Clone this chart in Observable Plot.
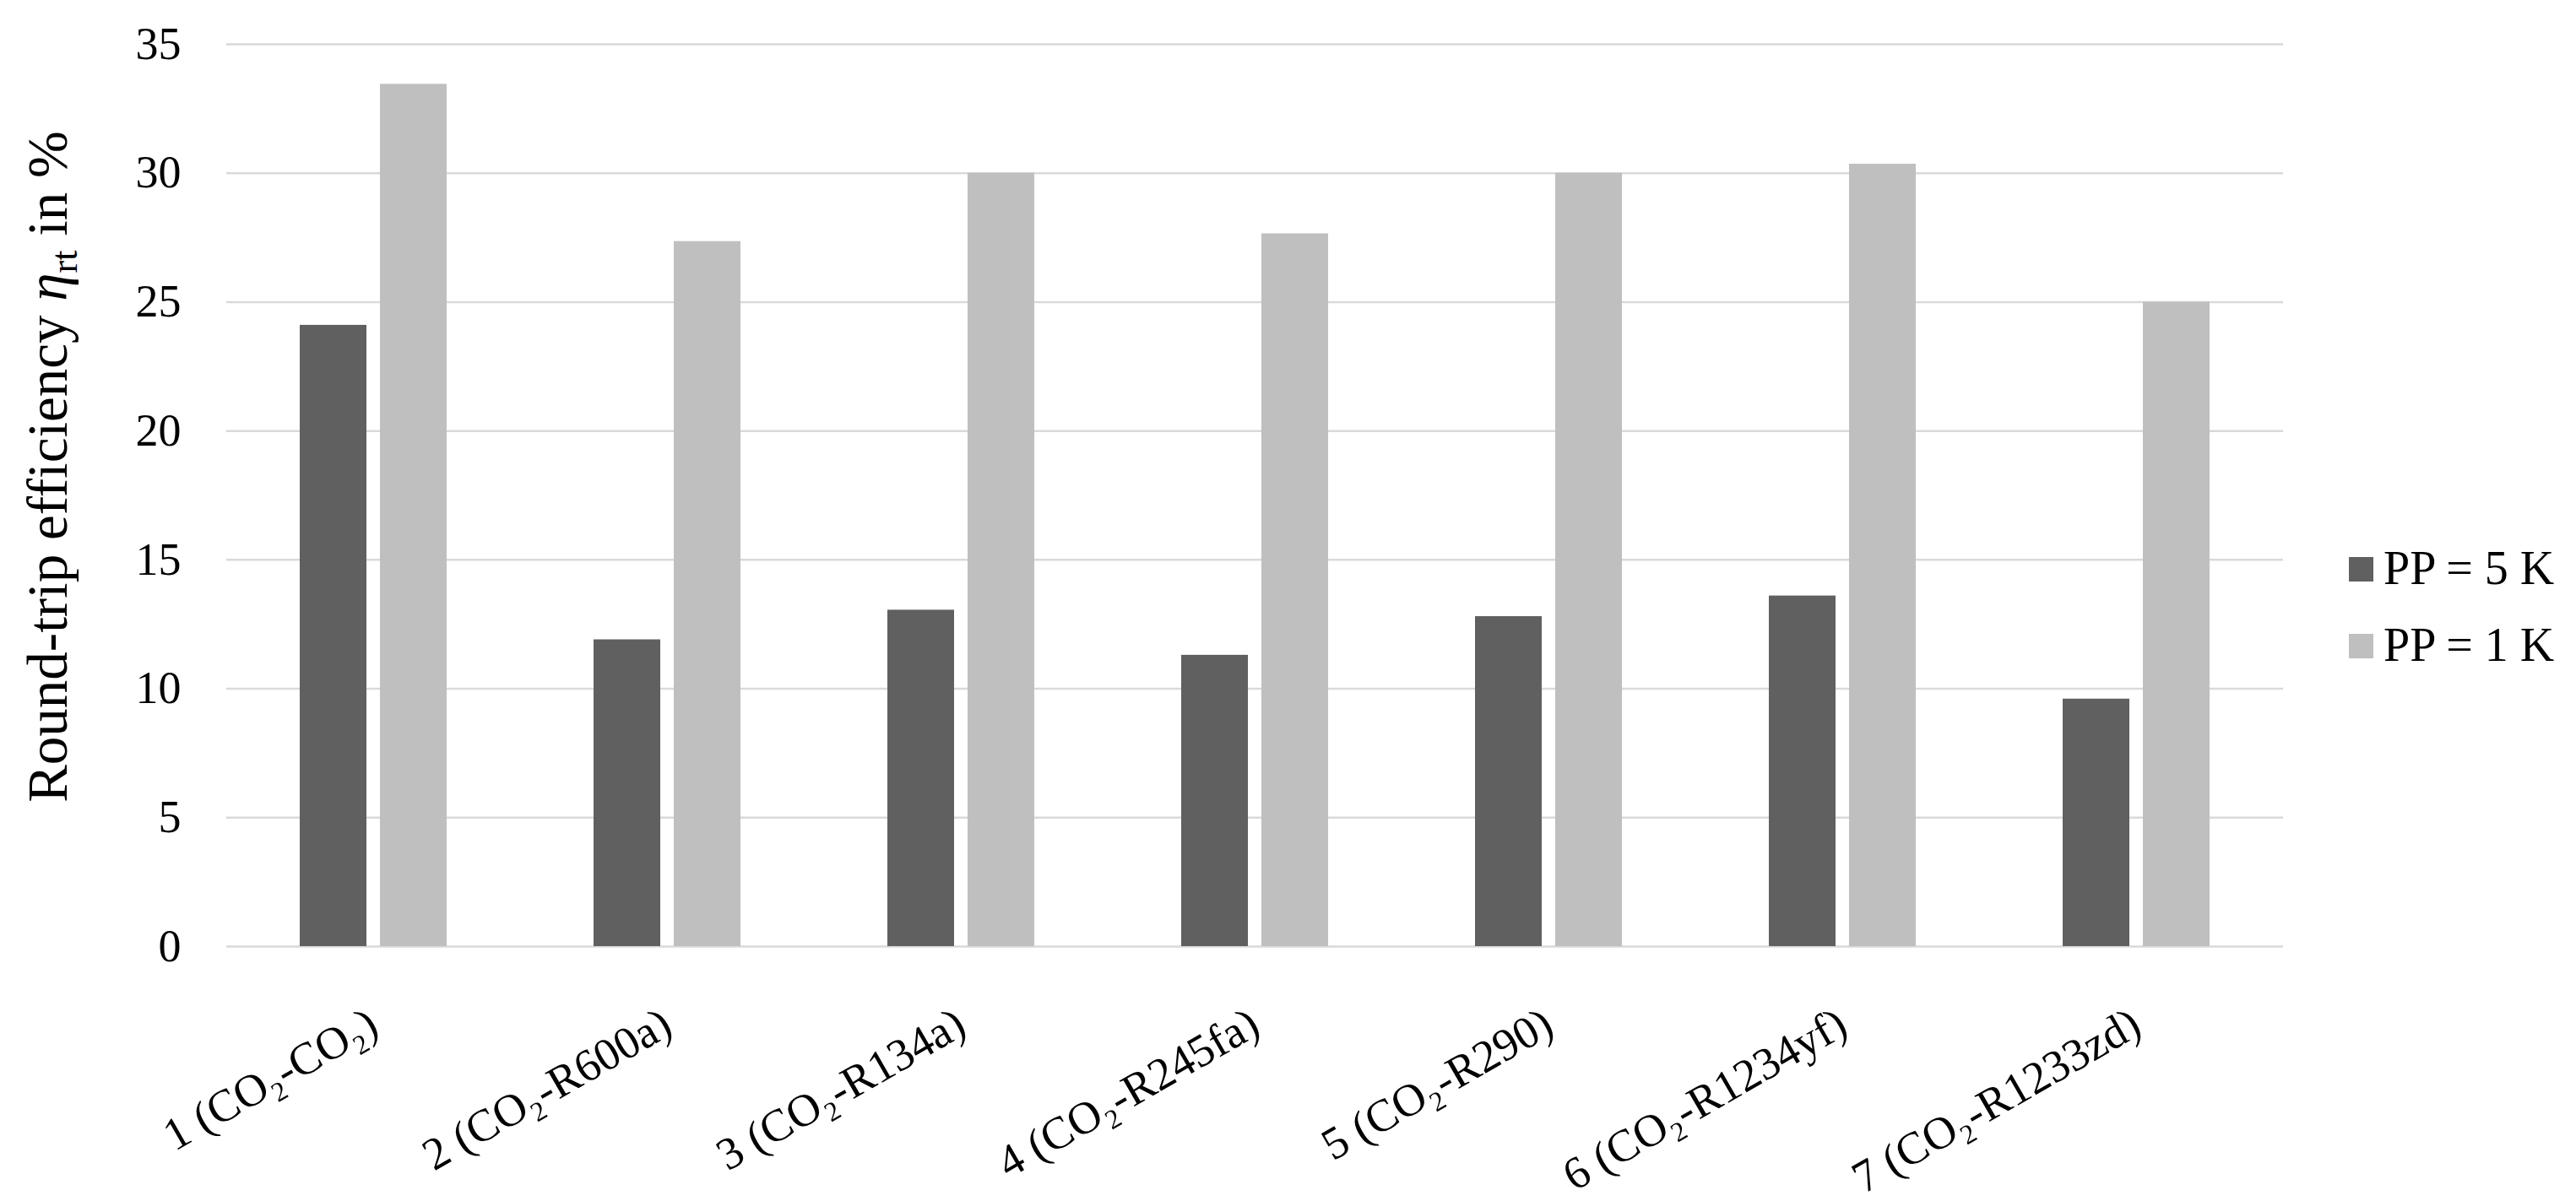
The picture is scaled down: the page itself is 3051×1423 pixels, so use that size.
<!DOCTYPE html>
<html>
<head>
<meta charset="utf-8">
<script src="https://cdn.jsdelivr.net/npm/d3@7"></script>
<script src="https://cdn.jsdelivr.net/npm/@observablehq/plot@0.6"></script>
<style>
  html, body { margin: 0; padding: 0; background: #fff; }
  #wrap { width: 3051px; height: 1423px; }
  svg { font-family: "Liberation Serif", "Times New Roman", serif; }
</style>
</head>
<body>
<div id="wrap"></div>
<script>
// ---- data ----
const categories = [
  "1 (CO₂-CO₂)",
  "2 (CO₂-R600a)",
  "3 (CO₂-R134a)",
  "4 (CO₂-R245fa)",
  "5 (CO₂-R290)",
  "6 (CO₂-R1234yf)",
  "7 (CO₂-R1233zd)"
];
const series = ["PP = 5 K", "PP = 1 K"];
const pp5 = [24.1, 11.9, 13.05, 11.3, 12.8, 13.6, 9.6];
const pp1 = [33.45, 27.35, 30.0, 27.65, 30.0, 30.35, 25.0];
const yTicks = [0, 5, 10, 15, 20, 25, 30, 35];
const seriesColors = ["#606060", "#bfbfbf"];

const rows = categories.flatMap((c, i) => [
  {category: c, series: series[0], value: pp5[i]},
  {category: c, series: series[1], value: pp1[i]}
]);

const FONT = '"Liberation Serif", "Times New Roman", serif';

const chart = Plot.plot({
  width: 3051,
  height: 1423,
  marginLeft: 266,
  marginRight: 346,
  marginTop: 52,
  marginBottom: 302,
  style: {fontFamily: FONT, background: "white", color: "black", overflow: "visible"},
  fx: {domain: categories, padding: 0, axis: null},
  x: {domain: series, paddingInner: 0.1667, paddingOuter: 0.9, axis: null},
  y: {domain: [0, 35], axis: null},
  color: {domain: series, range: seriesColors},
  marks: [
    Plot.ruleY(yTicks, {stroke: "#d9d9d9", strokeWidth: 2.5}),
    Plot.barY(rows, {fx: "category", x: "series", y: "value", fill: "series"}),
    Plot.axisY(yTicks, {tickSize: 0, tickPadding: 54, fontSize: 54, label: null, fill: "black"}),
    Plot.text(categories, {
      fx: d => d, text: d => d, frameAnchor: "bottom", dy: 87,
      rotate: -30, textAnchor: "end", lineAnchor: "middle",
      fontSize: 54, fill: "black"
    })
  ]
});

const svg = d3.select(chart);

// Y-axis title with italic eta and subscript
const yt = svg.append("text")
  .attr("transform", "translate(79,553) rotate(-90)")
  .attr("text-anchor", "middle")
  .attr("font-size", 67)
  .attr("font-family", FONT)
  .attr("fill", "black");
yt.append("tspan").text("Round-trip efficiency ");
yt.append("tspan").attr("font-style", "italic").text("η");
yt.append("tspan").attr("font-size", 44).attr("dy", 12).text("rt");
yt.append("tspan").attr("dy", -12).text(" in %");

// Legend
const lg = svg.append("g")
  .attr("font-family", FONT)
  .attr("font-size", 56)
  .attr("fill", "black")
  .attr("text-anchor", "start");
series.forEach((s, i) => {
  const by = 692 + 91 * i;
  lg.append("rect").attr("x", 2782).attr("y", by - 32).attr("width", 29).attr("height", 29).attr("fill", seriesColors[i]);
  lg.append("text").attr("x", 2823).attr("y", by).attr("text-anchor", "start").text(s);
});

document.getElementById("wrap").appendChild(chart);
</script>
</body>
</html>
